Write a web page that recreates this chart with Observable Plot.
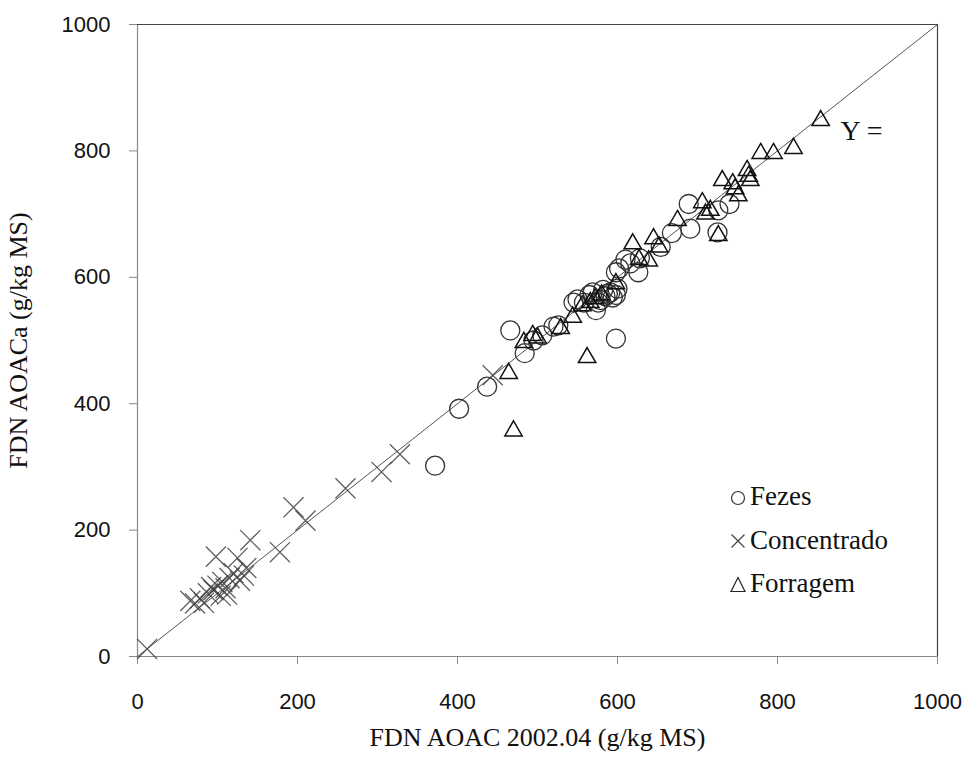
<!DOCTYPE html>
<html>
<head>
<meta charset="utf-8">
<script src="https://cdn.jsdelivr.net/npm/d3@7"></script>
<script src="https://cdn.jsdelivr.net/npm/@observablehq/plot@0.6"></script>
<style>
  html, body { margin: 0; padding: 0; background: #fff; }
  #wrap { position: relative; width: 970px; height: 762px; }
  #legend { position: absolute; left: 728px; top: 475px; font-family: "Liberation Serif", "Times New Roman", serif; font-size: 27px; color: #111; }
  #legend .row { display: flex; align-items: center; height: 43.5px; }
  #legend svg { width: 20px; height: 20px; margin-right: 2px; }
</style>
</head>
<body>
<div id="wrap">
  <div id="chart"></div>
  <div id="legend"></div>
</div>
<script>
// Series: Fezes (circles)
const fezesX = [372,402,437,466,484,495,506,520,526,545,550,558,565,569,573,576,579,582,585,588,591,594,598,600,598,598,602,610,616,626,628,654,668,689,691,725,726,740];
const fezesY = [302,392,427,516,480,500,508,522,524,560,565,560,572,576,548,560,564,580,570,574,576,568,572,582,503,608,614,628,622,608,630,648,670,716,677,671,706,716];
// Series: Concentrado (crosses)
const concX = [12,66,72,78,83,88,92,95,98,100,104,106,110,112,115,120,125,128,133,136,141,178,195,210,260,305,328,444];
const concY = [12,88,84,92,85,100,110,105,158,112,96,118,108,98,124,132,156,120,128,140,184,165,236,215,266,292,320,445];
// Series: Forragem (triangles)
const forrX = [464,470,483,494,500,529,544,556,562,566,572,580,598,619,627,639,645,652,675,706,710,716,726,731,744,747,751,762,766,764,779,795,820,854];
const forrY = [448,357,497,508,504,519,537,555,473,560,566,572,590,653,628,626,661,648,690,718,700,706,666,753,748,740,729,769,753,760,796,796,804,848];

const categories = ["Fezes", "Concentrado", "Forragem"];
const ticks = [0, 200, 400, 600, 800, 1000];
const identity = [0, 1000];
const xLabel = "FDN AOAC 2002.04 (g/kg MS)";
const yLabel = "FDN AOACa (g/kg MS)";
const eqLabel = "Y =";

const fezes = fezesX.map((x, i) => ({x, y: fezesY[i]}));
const conc = concX.map((x, i) => ({x, y: concY[i]}));
const forr = forrX.map((x, i) => ({x, y: forrY[i]}));

const serif = "Liberation Serif, Times New Roman, serif";

const plot = Plot.plot({
  width: 970,
  height: 762,
  marginLeft: 137,
  marginRight: 33,
  marginTop: 24,
  marginBottom: 106,
  style: {fontFamily: "Liberation Sans, Arial, sans-serif", fontSize: "22px", color: "#111", background: "#fff", overflow: "visible"},
  x: {domain: [0, 1000]},
  y: {domain: [0, 1000]},
  marks: [
    Plot.axisX({ticks, tickSize: 8, tickPadding: 29, stroke: "#888", label: null, tickFormat: d => String(d), fontSize: 22}),
    Plot.axisY({ticks, tickSize: 8, tickPadding: 19, stroke: "#888", label: null, tickFormat: d => String(d), fontSize: 22}),
    Plot.ruleY([0], {stroke: "#888", strokeWidth: 1.2}),
    Plot.ruleX([0], {stroke: "#888", strokeWidth: 1.2}),
    Plot.ruleY([1000], {stroke: "#444", strokeWidth: 1.2}),
    Plot.ruleX([1000], {stroke: "#444", strokeWidth: 1.2}),
    Plot.line(identity.map(v => ({x: v, y: v})), {x: "x", y: "y", stroke: "#555", strokeWidth: 1}),
    Plot.dot(conc, {x: "x", y: "y", symbol: "times", r: 9.2, stroke: "#444", strokeWidth: 1.3, strokeOpacity: 0.85}),
    Plot.dot(fezes, {x: "x", y: "y", symbol: "circle", r: 9.5, stroke: "#333", strokeWidth: 1.3, fill: "none"}),
    Plot.dot(forr, {x: "x", y: "y", symbol: "triangle2", r: 8.3, stroke: "#111", strokeWidth: 1.5, fill: "none"}),
    Plot.text([eqLabel], {frameAnchor: "top-right", dx: -97, dy: 96, text: d => d, fontFamily: serif, fontSize: 28, textAnchor: "start", fill: "#111"}),
    Plot.text([xLabel], {frameAnchor: "bottom", dy: 89, text: d => d, fontFamily: serif, fontSize: 26, fill: "#111"}),
    Plot.text([yLabel], {frameAnchor: "left", dx: -119, rotate: -90, textAnchor: "middle", text: d => d, fontFamily: serif, fontSize: 26, fill: "#111"})
  ]
});
document.getElementById("chart").appendChild(plot);

// Legend
const legendSymbols = {
  "Fezes": '<circle cx="10" cy="11" r="6.5" fill="none" stroke="#333" stroke-width="1.2"/>',
  "Concentrado": '<path d="M3.5,4.5L16.5,17.5M16.5,4.5L3.5,17.5" stroke="#444" stroke-width="1.2"/>',
  "Forragem": '<path d="M10,3.5L17,17.5L3,17.5Z" fill="none" stroke="#222" stroke-width="1.2"/>'
};
const legend = document.getElementById("legend");
categories.forEach(c => {
  const row = document.createElement("div");
  row.className = "row";
  row.innerHTML = '<svg viewBox="0 0 20 20">' + legendSymbols[c] + '</svg><span>' + c + '</span>';
  legend.appendChild(row);
});
</script>
</body>
</html>
